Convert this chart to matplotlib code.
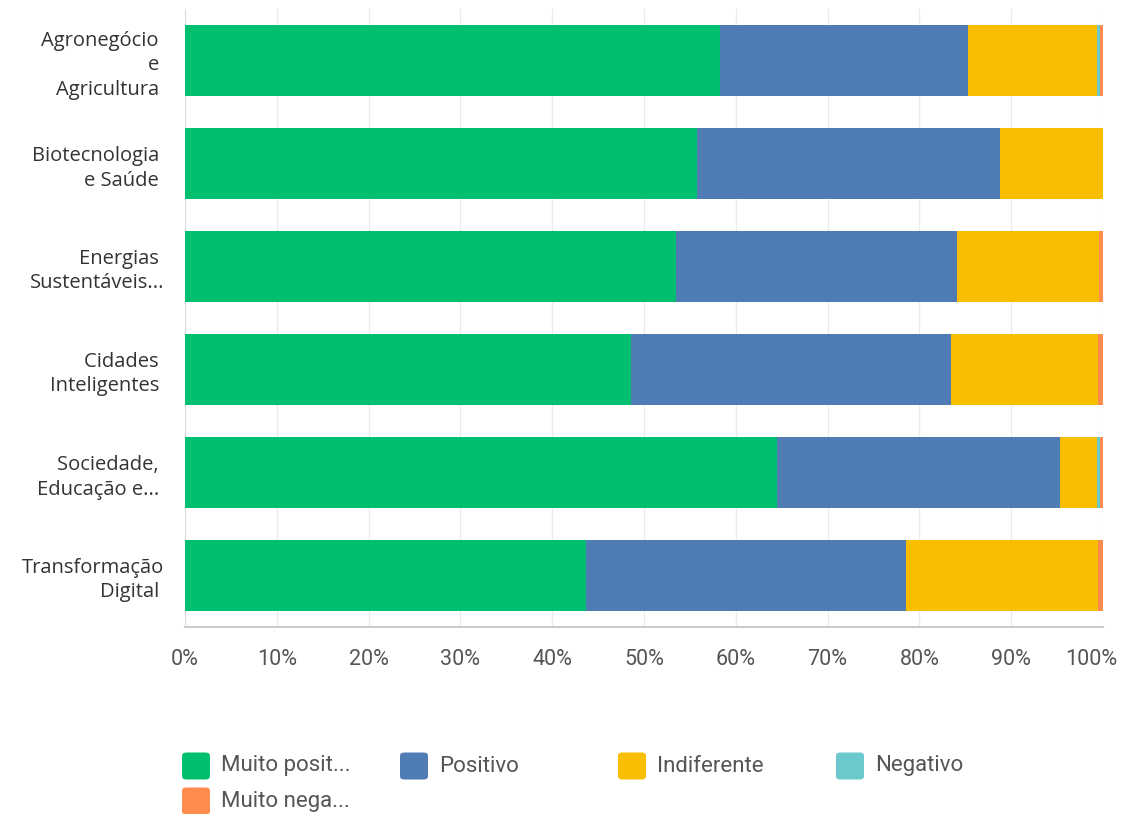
import numpy as np
import matplotlib
matplotlib.use('Agg')
import matplotlib.pyplot as plt
import matplotlib.transforms as mtransforms
from matplotlib.patches import FancyBboxPatch
from matplotlib.ticker import FuncFormatter

# categories, top to bottom (trailing spaces mimic the original's label wrapping)
categories = ["Agronegócio \ne \nAgricultura ", "Biotecnologia \ne Saúde ",
              "Energias \nSustentáveis...", "Cidades \nInteligentes ",
              "Sociedade, \nEducação e... ", "Transformação\nDigital "]

series_names = ["Muito posit...", "Positivo", "Indiferente", "Negativo", "Muito nega..."]

muito_positivo = [58.3, 55.8, 53.5, 48.6, 64.5, 43.7]
positivo = [27.0, 33.0, 30.6, 34.8, 30.8, 34.8]
indiferente = [14.1, 11.2, 15.5, 16.1, 4.1, 21.0]
negativo = [0.3, 0.0, 0.0, 0.0, 0.3, 0.0]
muito_negativo = [0.3, 0.0, 0.4, 0.5, 0.3, 0.5]

colors = ["#00BF6F", "#507CB6", "#F9BE00", "#6BC8CD", "#FF8B4F"]

series = [muito_positivo, positivo, indiferente, negativo, muito_negativo]

fig = plt.figure(figsize=(11.23, 8.14), dpi=100)
ax = fig.add_axes([185 / 1123, 1 - 627 / 814, 918 / 1123, 618 / 814])

y = np.arange(len(categories))
left = np.zeros(len(categories))
for vals, c in zip(series, colors):
    ax.barh(y, vals, left=left, height=0.68, color=c, edgecolor='none', zorder=3)
    left += np.array(vals)

ax.set_xlim(0, 100)
ax.set_ylim(len(categories) - 0.5, -0.5)
ax.set_xticks(np.arange(0, 101, 10))
ax.xaxis.set_major_formatter(FuncFormatter(lambda v, p: f"{int(v)}%"))
ax.set_yticks(y)
ax.set_yticklabels(categories, family='Open Sans', fontsize=14.5, color='#333333',
                   linespacing=1.3)
ax.tick_params(axis='y', length=0, pad=15)
ax.tick_params(axis='x', length=0, pad=16, labelsize=15.5, labelcolor='#555555')
xlabels = ax.get_xticklabels()
for lab in xlabels:
    lab.set_family('Roboto')
# last label is pulled left so it stays inside the picture
xlabels[-1].set_transform(xlabels[-1].get_transform() +
                          mtransforms.ScaledTranslation(-0.12, 0, fig.dpi_scale_trans))
ax.grid(axis='x', color='#ebebeb', linewidth=1, zorder=0)
for s in ['top', 'right']:
    ax.spines[s].set_visible(False)
ax.spines['left'].set_color('#dddddd')
ax.spines['bottom'].set_color('#cccccc')
ax.spines['bottom'].set_linewidth(1.5)

# legend drawn by hand to get fixed column spacing
for i, (name, c) in enumerate(zip(series_names, colors)):
    col, row = i % 4, i // 4
    x0 = (182 + col * 218) / 1123
    yc = 1 - (766 + row * 35) / 814
    w, h = 28 / 1123, 27 / 814
    fig.patches.append(FancyBboxPatch((x0, yc - h / 2), w, h,
                                      boxstyle="round,pad=0,rounding_size=0.004",
                                      transform=fig.transFigure, facecolor=c,
                                      edgecolor='none'))
    fig.text(x0 + 39 / 1123, yc, name, family='Roboto', fontsize=16,
             color='#555555', va='center', ha='left')

fig.savefig('out.png', dpi=100)
